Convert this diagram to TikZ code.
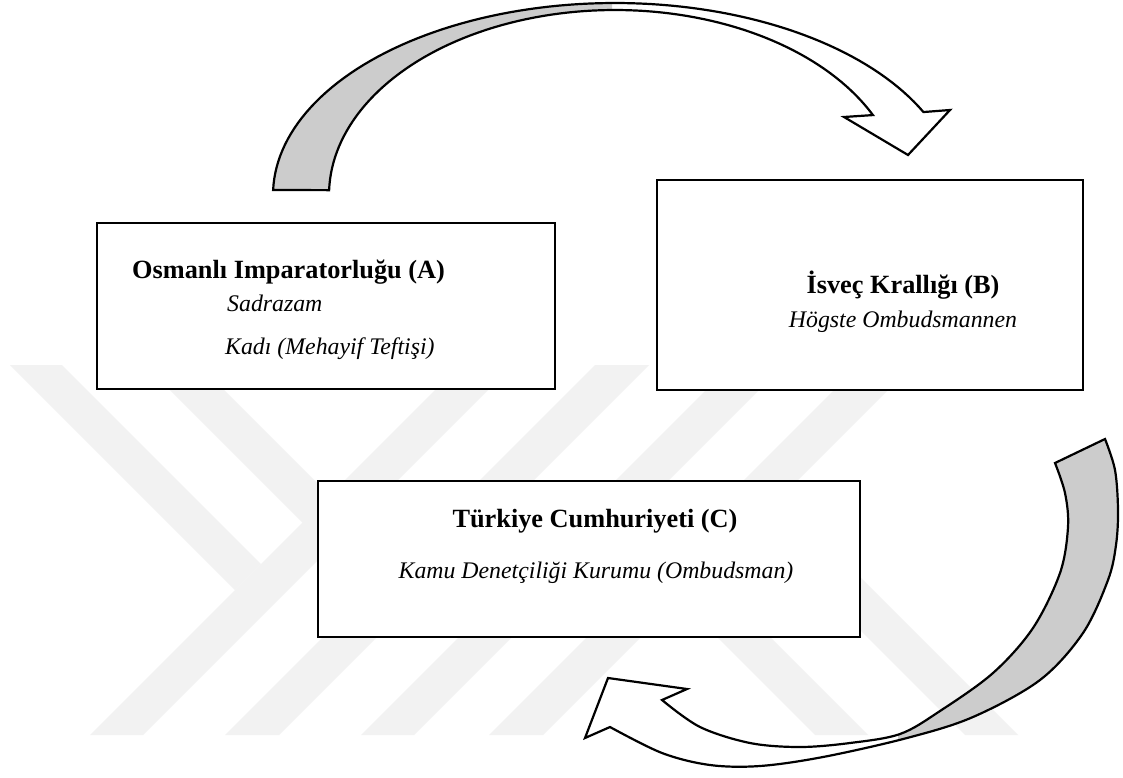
\documentclass[tikz,border=0pt]{standalone}
\usepackage{fontspec}
\setmainfont{Liberation Serif}
\begin{document}
\begin{tikzpicture}[x=1pt,y=-1pt,
  box/.style={draw=black, line width=2.8pt, fill=white, inner sep=0pt},
  boxtitle/.style={font=\fontsize{26.3}{30}\selectfont\bfseries, inner sep=0pt, anchor=base},
  boxsub/.style={font=\fontsize{23.8}{28}\selectfont\itshape, inner sep=0pt, anchor=base},
  wmark/.style={fill=black!5, draw=none},
  ribbon/.style={draw=black, line width=2.2pt, line join=miter},
  backface/.style={fill=black!20},
  frontface/.style={fill=white}
]
% page
\useasboundingbox (0,0) rectangle (1123,778);
\fill[white] (0,0) rectangle (1123,778);

% faint background emblem: diagonal bars
\fill[wmark] (10,365) -- (62,365) -- (261,564) -- (235,590) -- cycle;
\fill[wmark] (145,365) -- (199,365) -- (342,508) -- (315,535) -- cycle;
\fill[wmark] (460,365) -- (513,365) -- (143,735) -- (90,735) -- cycle;
\fill[wmark] (595,365) -- (649,365) -- (279,735) -- (225,735) -- cycle;
\fill[wmark] (731,365) -- (784,365) -- (414,735) -- (361,735) -- cycle;
\fill[wmark] (859,365) -- (913,365) -- (543,735) -- (489,735) -- cycle;
\fill[wmark] (601,521) -- (627.5,494.5) -- (868,735) -- (815,735) -- cycle;
\fill[wmark] (740.5,510.5) -- (767,484) -- (1018,735) -- (965,735) -- cycle;

% boxes
\node[box, minimum width=458pt, minimum height=166pt] (A) at (326,306) {};
\node[box, minimum width=426pt, minimum height=210pt] (B) at (870,285) {};
\node[box, minimum width=542pt, minimum height=156pt] (C) at (589,559) {};

% box texts
\node[boxtitle, anchor=base west] (At) at (132,278) {Osmanlı Imparatorluğu (A)};
\node[boxsub, anchor=base west] (As1) at (227,311) {Sadrazam};
\node[boxsub, anchor=base west] (As2) at (225,354) {Kadı (Mehayif Teftişi)};
\node[boxtitle] (Bt) at (903,293) {İsveç Krallığı (B)};
\node[boxsub] (Bs) at (903,327) {Högste Ombudsmannen};
\node[boxtitle] (Ct) at (595,527) {Türkiye Cumhuriyeti (C)};
\node[boxsub] (Cs) at (596,578) {Kamu Denetçiliği Kurumu (Ombudsman)};

% curved ribbon arrow from A over the top to B
\def\topband{plot[domain=178.5:25.6, samples=90] ({615+342*cos(\x)},{195-192*sin(\x)})
  -- (950,110) -- (908,155) -- (844,117)
  -- plot[domain=25.6:178.5, samples=90] ({615+286*cos(\x)},{195-185*sin(\x)}) -- cycle}
\fill[frontface] \topband;
\begin{scope}
  \clip (0,0) rectangle (612,260);
  \fill[backface] \topband;
\end{scope}
\draw[ribbon] \topband;

% curved ribbon arrow from the right round the bottom towards C
\def\botband{plot[smooth, tension=0.55] coordinates {(1105,439) (1115,470) (1118,510) (1116,545) (1108,580) (1083,633) (1040,680) (973,717) (907,738) (823,757) (760,766) (710,765) (662,753) (610,727)}
  -- (585,738) -- (608,678) -- (687,689)
  -- plot[smooth, tension=0.55] coordinates {(662,700) (700,727) (750,743) (800,747) (850,743) (900,734) (940,711) (993,673) (1033,628) (1060,573) (1068,527) (1065,493) (1055,463)} -- cycle}
\fill[frontface] \botband;
\begin{scope}
  \clip (898,380) rectangle (1123,778);
  \fill[backface] \botband;
\end{scope}
\draw[ribbon] \botband;
\end{tikzpicture}
\end{document}
